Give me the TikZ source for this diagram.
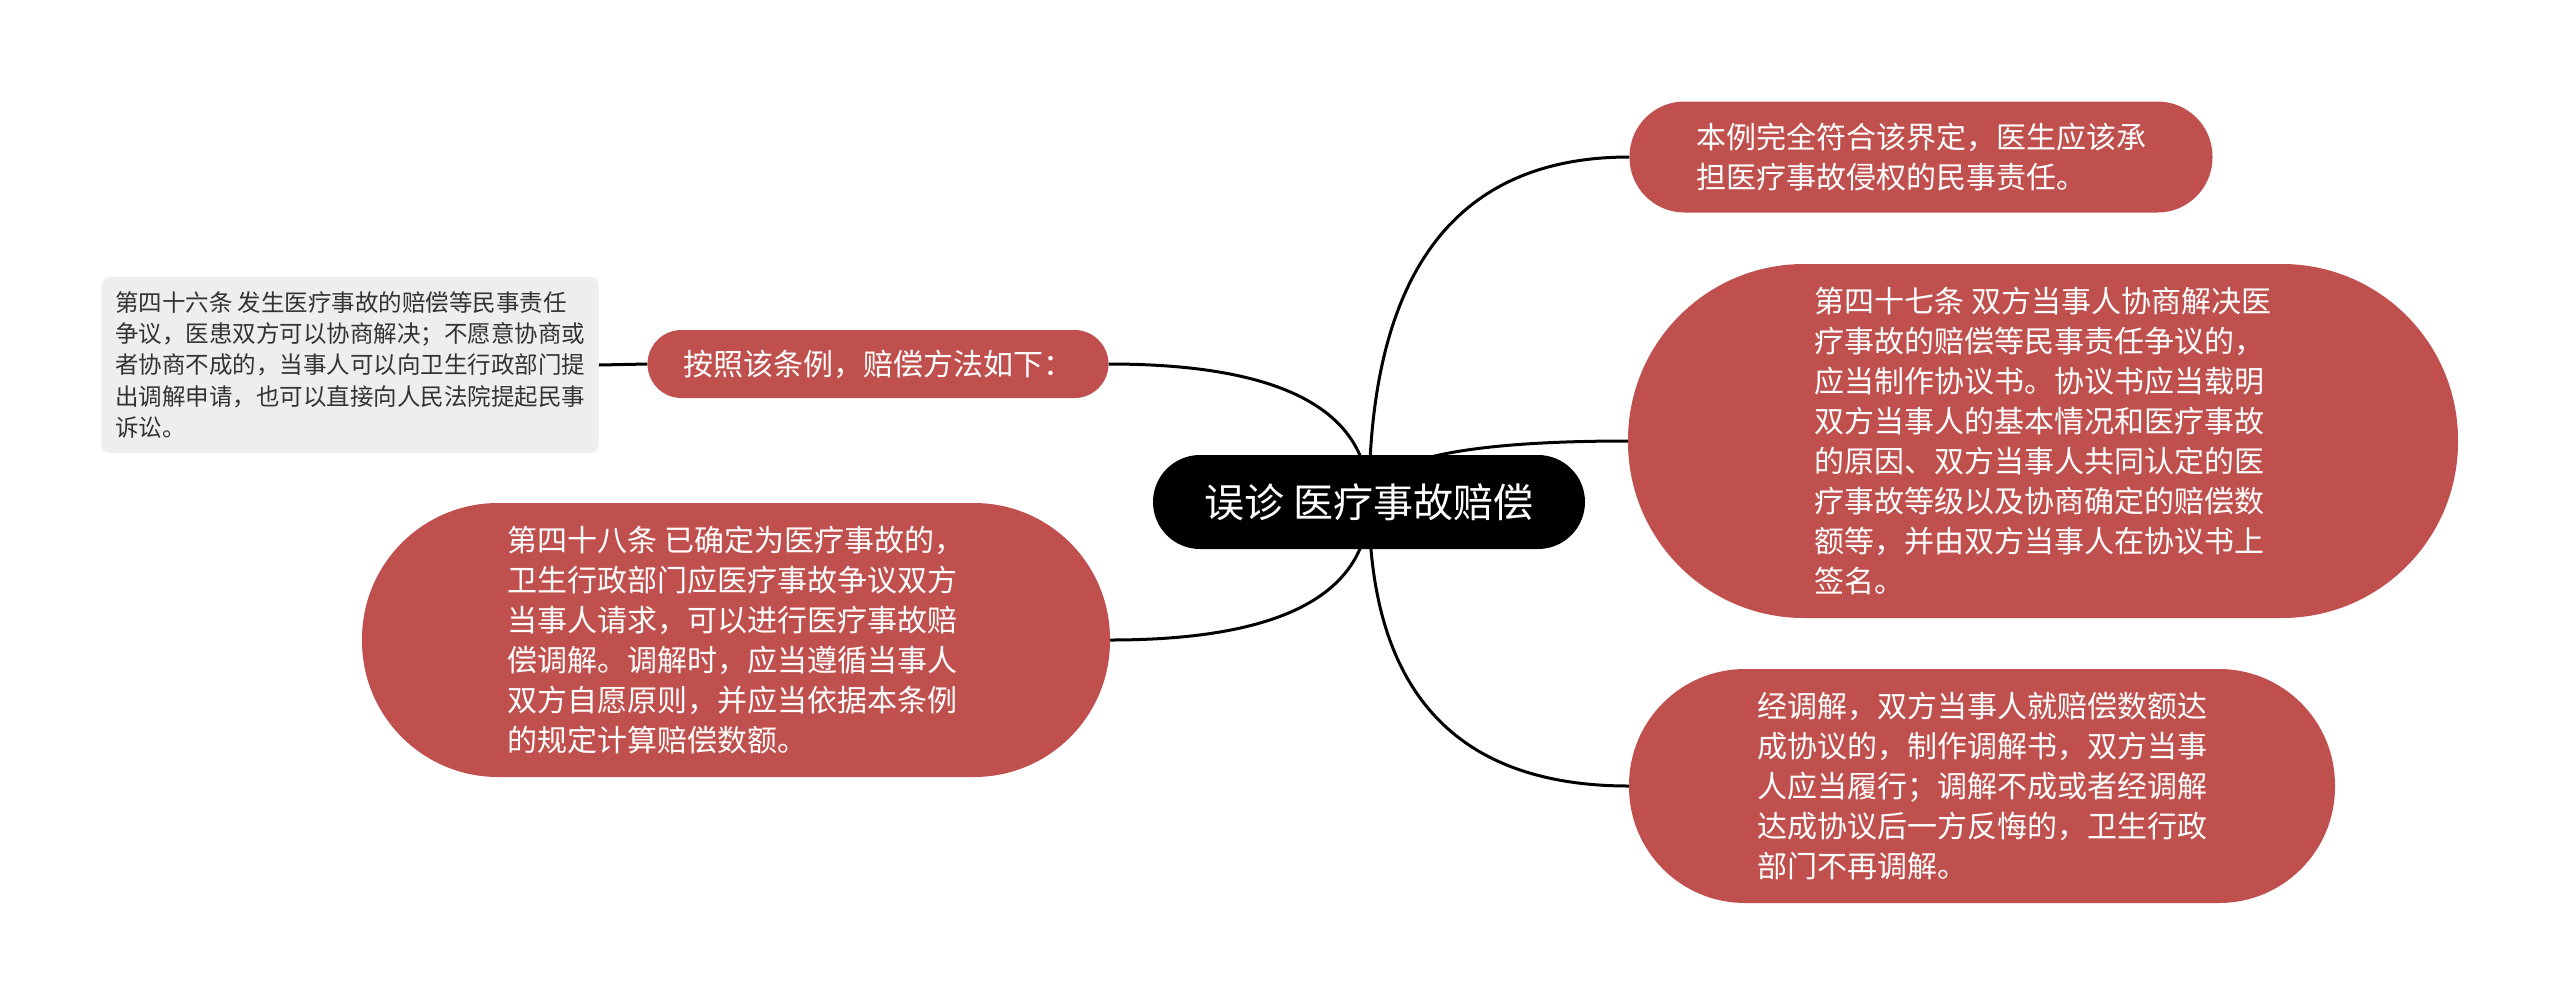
\documentclass[tikz,border=0pt]{standalone}
\usepackage{fontspec}
\newfontfamily\cjk{Noto Sans CJK SC}
\usetikzlibrary{calc,backgrounds}
\definecolor{nodered}{RGB}{192,80,77}
\definecolor{notegray}{RGB}{238,238,238}
\definecolor{notetext}{RGB}{51,51,51}
\newcommand\mmbranch[2]{\draw[conn] (#1.center) .. controls ($(#1.center)!2/3!(#1.center|-#2)$) and ($(#2)!2/3!(#1.center|-#2)$) .. (#2);}
\tikzset{
  conn/.style={line width=3pt, black},
  rootbox/.style={fill=black, text=white, rounded corners=47pt, inner sep=0pt,
    minimum width=432pt, minimum height=94pt, font=\cjk\fontsize{40}{48}\selectfont},
  redbox/.style={fill=nodered, text=white, inner sep=0pt, align=left,
    font=\cjk\fontsize{30}{40}\selectfont},
  notebox/.style={fill=notegray, text=notetext, inner sep=0pt, align=left, rounded corners=8pt,
    font=\cjk\fontsize{23.5}{31.3}\selectfont}
}
\begin{document}
\begin{tikzpicture}[x=1pt,y=-1pt]
\useasboundingbox (0,0) rectangle (2560,1005);

\node[rootbox] (c) at (1369,502) {误诊 医疗事故赔偿};

\node[redbox, minimum width=583pt, minimum height=111pt, rounded corners=55pt] (r1) at (1921,157)
  {本例完全符合该界定，医生应该承\\担医疗事故侵权的民事责任。};

\node[redbox, minimum width=830pt, minimum height=354pt, rounded corners=176pt] (r2) at (2043,441)
  {第四十七条 双方当事人协商解决医\\疗事故的赔偿等民事责任争议的，\\应当制作协议书。协议书应当载明\\双方当事人的基本情况和医疗事故\\的原因、双方当事人共同认定的医\\疗事故等级以及协商确定的赔偿数\\额等，并由双方当事人在协议书上\\签名。};

\node[redbox, minimum width=706pt, minimum height=234pt, rounded corners=116pt] (r3) at (1982,786)
  {经调解，双方当事人就赔偿数额达\\成协议的，制作调解书，双方当事\\人应当履行；调解不成或者经调解\\达成协议后一方反悔的，卫生行政\\部门不再调解。};

\node[redbox, minimum width=461pt, minimum height=68pt, rounded corners=34pt] (a) at (878,364)
  {按照该条例，赔偿方法如下：};

\node[redbox, minimum width=748pt, minimum height=274pt, rounded corners=136pt] (l) at (736,640)
  {第四十八条 已确定为医疗事故的，\\卫生行政部门应医疗事故争议双方\\当事人请求，可以进行医疗事故赔\\偿调解。调解时，应当遵循当事人\\双方自愿原则，并应当依据本条例\\的规定计算赔偿数额。};

\node[notebox, minimum width=497pt, minimum height=176pt] (g) at (350,365)
  {第四十六条 发生医疗事故的赔偿等民事责任\\争议，医患双方可以协商解决；不愿意协商或\\者协商不成的，当事人可以向卫生行政部门提\\出调解申请，也可以直接向人民法院提起民事\\诉讼。};

\begin{pgfonlayer}{background}
\mmbranch{c}{r1.west}
\mmbranch{c}{r2.west}
\mmbranch{c}{r3.west}
\mmbranch{c}{a.east}
\mmbranch{c}{l.east}
\draw[conn] (g.east) -- (a.west);
\end{pgfonlayer}
\end{tikzpicture}
\end{document}
